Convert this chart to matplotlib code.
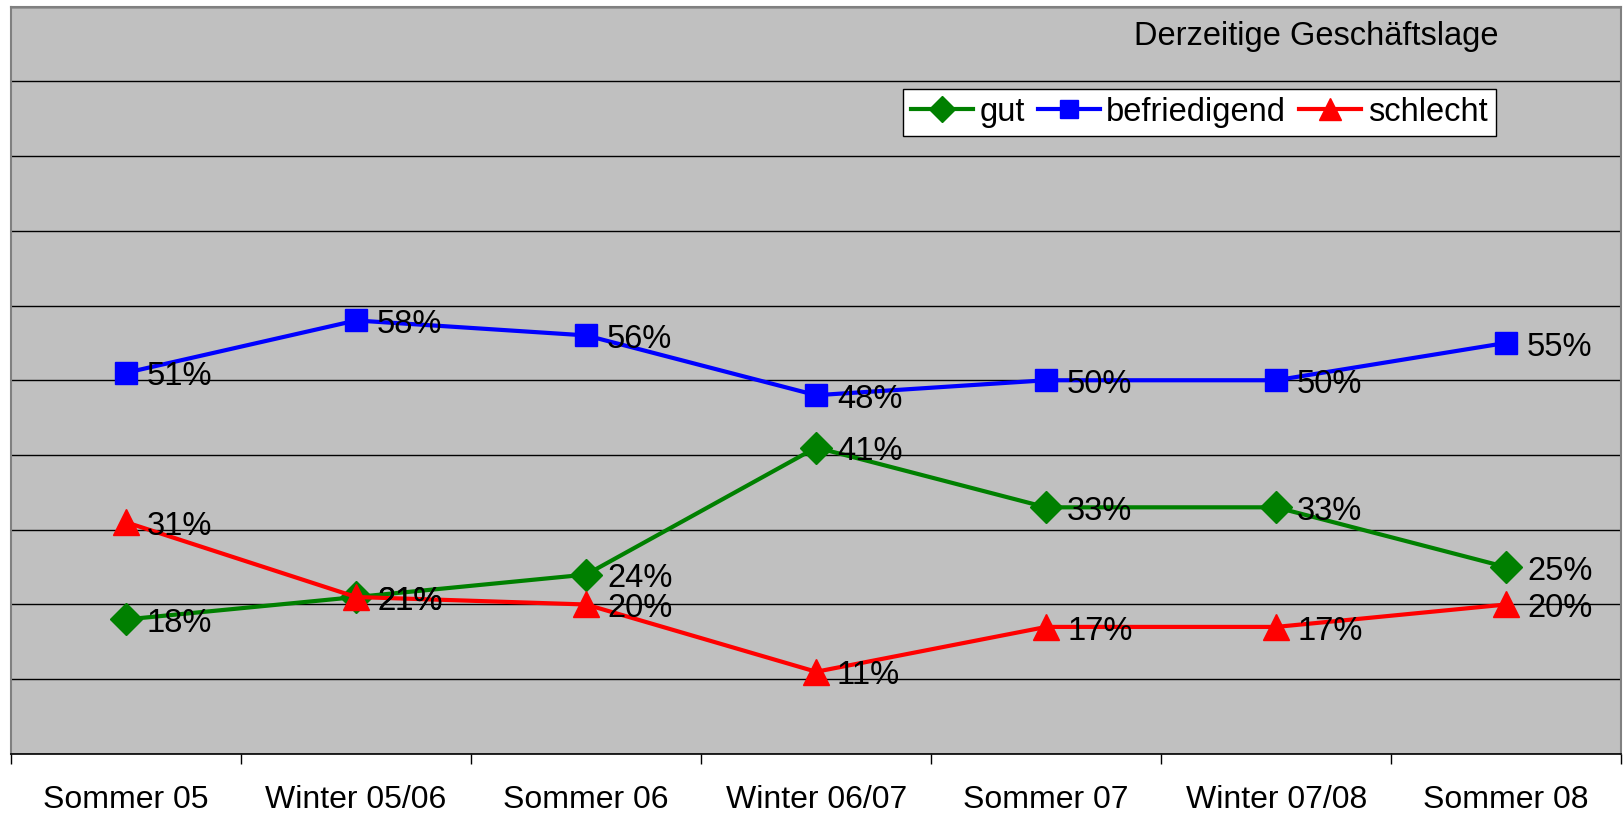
import matplotlib
matplotlib.use("Agg")
import matplotlib.pyplot as plt
import numpy as np

plt.rcParams['font.family'] = ['Liberation Sans', 'DejaVu Sans']

# data
categories = ['Sommer 05', 'Winter 05/06', 'Sommer 06', 'Winter 06/07',
              'Sommer 07', 'Winter 07/08', 'Sommer 08']
gut = [18, 21, 24, 41, 33, 33, 25]
befriedigend = [51, 58, 56, 48, 50, 50, 55]
schlecht = [31, 21, 20, 11, 17, 17, 20]

fig = plt.figure(figsize=(16.24, 8.16), dpi=100)
ax = fig.add_axes([0.0068, 0.076, 0.9915, 0.916])
ax.set_facecolor('#C0C0C0')

x = np.arange(len(categories))

series = [
    (gut, 'gut', '#008000', 'D', 16),
    (befriedigend, 'befriedigend', '#0000FF', 's', 16),
    (schlecht, 'schlecht', '#FF0000', '^', 19),
]
for vals, name, col, mk, ms in series:
    ax.plot(x, vals, color=col, lw=3, marker=mk, markersize=ms,
            markerfacecolor=col, markeredgecolor=col, label=name, zorder=3)
for vals, name, col, mk, ms in series:
    for xi, v in zip(x, vals):
        ax.annotate(f'{v}%', (xi, v), xytext=(15, -3), textcoords='offset points',
                    ha='left', va='center', fontsize=23.5, color='black', zorder=4)

ax.set_xlim(-0.5, len(categories) - 0.5)
ax.set_ylim(0, 100)
ax.set_yticks(np.arange(0, 101, 10))
ax.yaxis.grid(True, color='black', lw=1)
ax.set_axisbelow(True)
ax.tick_params(axis='y', left=False, labelleft=False)

ax.set_xticks(np.arange(-0.5, len(categories), 1))
ax.set_xticklabels([])
ax.set_xticks(x, minor=True)
ax.set_xticklabels(categories, minor=True, fontsize=23)
ax.tick_params(axis='x', which='major', direction='out', length=7.5, width=1, color='black')
ax.tick_params(axis='x', which='minor', length=0, pad=22)

for side in ['left', 'top', 'right']:
    ax.spines[side].set_color('#808080')
    ax.spines[side].set_linewidth(1.5)
ax.spines['bottom'].set_color('black')
ax.spines['bottom'].set_linewidth(1.2)

ax.text(0.924, 0.9485, 'Derzeitige Geschäftslage', transform=ax.transAxes,
        ha='right', va='baseline', fontsize=23.5)

leg = ax.legend(loc='upper right', bbox_to_anchor=(0.922, 0.89), ncol=3,
                fontsize=23.5, frameon=True, fancybox=False, framealpha=1,
                edgecolor='black', handlelength=1.9, handletextpad=0.2,
                columnspacing=0.4, borderpad=0.25, borderaxespad=0,
                markerscale=0.85)
leg.get_frame().set_linewidth(1)

fig.savefig('out.png', dpi=100)
